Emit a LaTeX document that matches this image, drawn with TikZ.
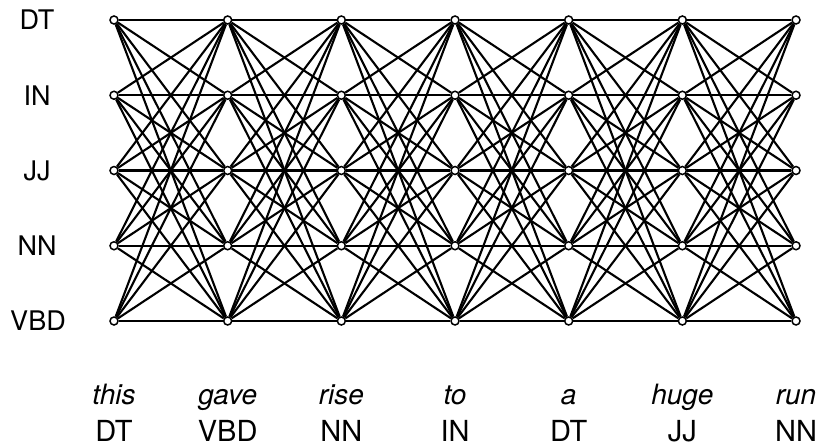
\documentclass[tikz,border=0pt]{standalone}
\usepackage{fontspec}
\setmainfont{TeX Gyre Heros}
\pgfdeclarelayer{bg}
\pgfsetlayers{bg,main}
\begin{document}
\begin{tikzpicture}[x=1pt,y=-1pt,
  dot/.style={circle,draw,fill=white,line width=1.5pt,inner sep=0pt,minimum size=8pt},
  edge/.style={line width=2.1pt},
  lab/.style={font=\fontsize{27}{30}\selectfont},
  word/.style={font=\fontsize{28}{30}\selectfont\itshape,anchor=base,inner sep=0pt},
  tag/.style={font=\fontsize{29}{30}\selectfont,anchor=base,inner sep=0pt}]
\useasboundingbox (0,0) rectangle (817,447);
\foreach \c in {1,...,7}
  \foreach \r in {1,...,5}
    \node[dot] (n\c\r) at ({114+113.67*(\c-1)}, {20+75.25*(\r-1)}) {};
\begin{pgfonlayer}{bg}
\foreach \c [evaluate=\c as \d using int(\c+1)] in {1,...,6}
  \foreach \r in {1,...,5}
    \foreach \s in {1,...,5}
      \draw[edge] (n\c\r) -- (n\d\s);
\end{pgfonlayer}
\node[lab] (lDT) at (37,20) {DT};
\node[lab] (lIN) at (37,95.25) {IN};
\node[lab] (lJJ) at (37,170.5) {JJ};
\node[lab] (lNN) at (37,245.75) {NN};
\node[lab] (lVBD) at (38,321) {VBD};
\foreach \w/\t [count=\i] in {this/DT,gave/VBD,rise/NN,to/IN,a/DT,huge/JJ,run/NN} {
  \node[word] (w\i) at ({114+113.67*(\i-1)},404) {\w};
  \node[tag] (t\i) at ({114+113.67*(\i-1)},441) {\t};
}
\end{tikzpicture}
\end{document}
